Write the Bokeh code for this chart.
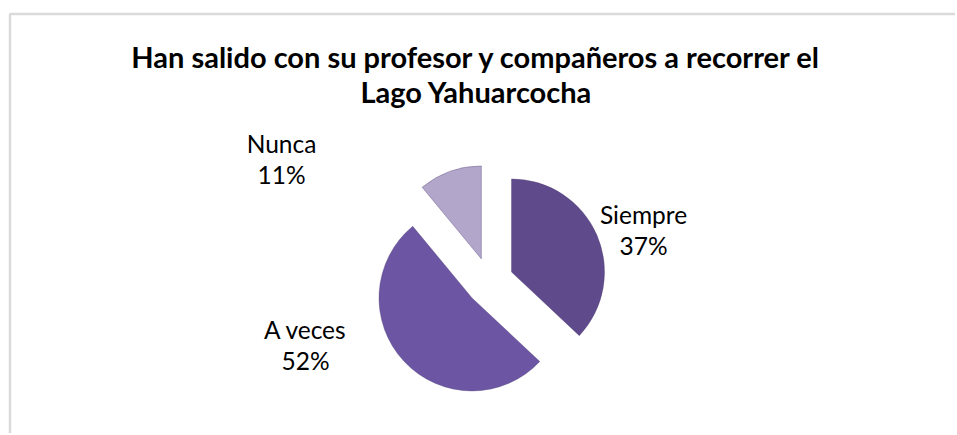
import math
from bokeh.plotting import figure
from bokeh.models import Range1d, BoxAnnotation
from bokeh.core.properties import value
from bokeh.embed import file_html
from bokeh.resources import INLINE

# ---- data ----
categories = ["Siempre", "A veces", "Nunca"]
percents = [37, 52, 11]
colors = ["#5f4a8b", "#6c56a3", "#b2a6cb"]
title_lines = ["Han salido con su profesor y compañeros a recorrer el", "Lago Yahuarcocha"]

W, H = 955, 433
p = figure(width=W, height=H, output_backend="svg", toolbar_location=None,
           x_range=Range1d(0, W), y_range=Range1d(0, H), min_border=0)
p.axis.visible = False
p.grid.visible = False
p.outline_line_color = None
p.background_fill_color = "white"
p.border_fill_color = "white"

def fy(ref_y):
    return H - ref_y

def fx(ref_x):
    return ref_x

# chart frame (partially cut by window)
p.add_layout(BoxAnnotation(left=fx(9.5), right=W + 20, top=fy(13.5), bottom=-20,
                           fill_alpha=0, line_color="#858585", line_width=2.5))

TEXT_DY = -8  # baseline correction

# title
font = "Lato"
for i, line in enumerate(title_lines):
    p.text(x=[fx(476)], y=[fy(64 + 35 * i + TEXT_DY)], text=[line], text_align="center",
           text_baseline="alphabetic", text_font=value(font), text_font_style="bold",
           text_font_size="29px", text_color="black")

# pie
cx, cy = fx(489), fy(281)
R = 93
explode = 24
total = sum(percents)
start = math.pi / 2
for cat, v, c in zip(categories, percents, colors):
    sweep = 2 * math.pi * v / total
    end = start - sweep
    mid = (start + end) / 2
    ox = cx + explode * math.cos(mid)
    oy = cy + explode * math.sin(mid)
    p.wedge(x=[ox], y=[oy], radius=R, start_angle=end, end_angle=start,
            fill_color=c, line_color="#4a3a70", line_alpha=0.35, line_width=1)
    start = end

# labels
label_pos = {"Siempre": (643, 222), "A veces": (305, 337), "Nunca": (281, 151)}
for cat, v in zip(categories, percents):
    lx, ly = label_pos[cat]
    p.text(x=[fx(lx)], y=[fy(ly + TEXT_DY)], text=[cat], text_align="center", text_baseline="alphabetic",
           text_font=value(font), text_font_size="24.5px", text_color="black")
    p.text(x=[fx(lx)], y=[fy(ly + 31 + TEXT_DY)], text=[f"{v}%"], text_align="center", text_baseline="alphabetic",
           text_font=value(font), text_font_size="24.5px", text_color="black")

open("out.html", "w").write(file_html(p, INLINE))
